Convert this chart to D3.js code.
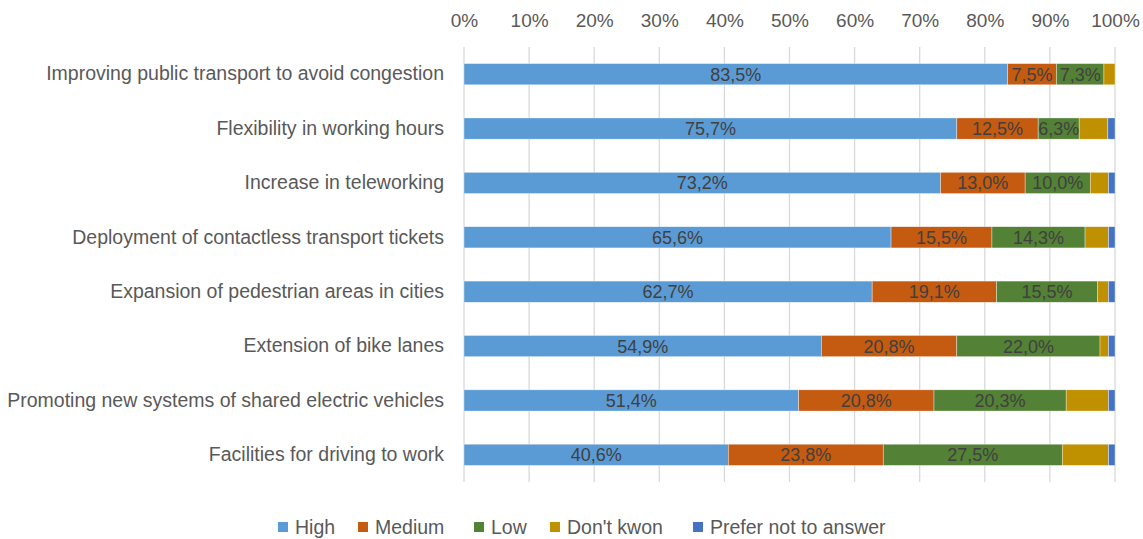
<!DOCTYPE html>
<html><head><meta charset="utf-8">
<script src="https://cdn.jsdelivr.net/npm/d3@7"></script>
<style>body{margin:0;background:#fff;} text{font-family:"Liberation Sans",Arial,sans-serif;}</style>
</head><body><svg id="c" width="1143" height="539"></svg>
<script>
const categories = [
  "Improving public transport to avoid congestion",
  "Flexibility in working hours",
  "Increase in teleworking",
  "Deployment of contactless transport tickets",
  "Expansion of pedestrian areas in cities",
  "Extension of bike lanes",
  "Promoting new systems of shared electric vehicles",
  "Facilities for driving to work"
];
const seriesNames = ["High", "Medium", "Low", "Don't kwon", "Prefer not to answer"];
const high   = [83.5, 75.7, 73.2, 65.6, 62.7, 54.9, 51.4, 40.6];
const medium = [7.5, 12.5, 13.0, 15.5, 19.1, 20.8, 20.8, 23.8];
const low    = [7.3, 6.3, 10.0, 14.3, 15.5, 22.0, 20.3, 27.5];
const dontKnow = [1.7, 4.4, 2.8, 3.6, 1.7, 1.3, 6.5, 7.1];
const preferNot = [0.0, 1.1, 1.0, 1.0, 1.0, 1.0, 1.0, 1.0];
const tickValues = [0,10,20,30,40,50,60,70,80,90,100];
const colors = ["#5B9BD5", "#C55A11", "#538135", "#BF9000", "#4472C4"];
const labeled = [true, true, true, false, false];

const series = [high, medium, low, dontKnow, preferNot];
const rows = categories.map((c,i)=>{ const o={cat:c}; seriesNames.forEach((s,k)=>o[s]=series[k][i]); return o; });
const stack = d3.stack().keys(seriesNames)(rows);

const svg = d3.select("#c");
const x = d3.scaleLinear().domain([0,100]).range([464,1115]);
const y = d3.scaleBand().domain(categories).range([47,482]).paddingInner(0.61).paddingOuter(0.305);

// gridlines
svg.append("g").selectAll("line").data(tickValues).join("line")
  .attr("x1",d=>x(d)).attr("x2",d=>x(d)).attr("y1",47).attr("y2",482)
  .attr("stroke","#d9d9d9").attr("stroke-width",1.3);

// top axis labels
const ax = svg.append("g").attr("transform","translate(0,27)")
  .call(d3.axisTop(x).tickValues(tickValues).tickFormat(d=>d+"%").tickSize(0).tickPadding(0));
ax.select(".domain").remove();
ax.selectAll("text").attr("fill","#595959").attr("font-size",19).attr("font-family","Liberation Sans, Arial, sans-serif");

// category labels
const ay = svg.append("g").attr("transform","translate(444,0)")
  .call(d3.axisLeft(y).tickSize(0).tickPadding(0));
ay.select(".domain").remove();
ay.selectAll("text").attr("fill","#595959").attr("font-size",19.5).attr("font-family","Liberation Sans, Arial, sans-serif");

// bars
const g = svg.append("g");
stack.forEach((s,k)=>{
  g.append("g").selectAll("rect").data(s).join("rect")
    .attr("x",d=>x(d[0])).attr("width",d=>Math.max(0,x(d[1])-x(d[0])))
    .attr("y",d=>y(d.data.cat)).attr("height",y.bandwidth())
    .attr("fill",colors[k]).attr("stroke","#fff").attr("stroke-width",0.6).attr("stroke-opacity",0.6);
  if(labeled[k]){
    g.append("g").selectAll("text").data(s).join("text")
      .attr("x",d=>(x(d[0])+x(d[1]))/2).attr("y",d=>y(d.data.cat)+y.bandwidth()/2)
      .attr("dy","0.36em").attr("text-anchor","middle").attr("font-size",18).attr("fill","#404040")
      .text(d=>(d[1]-d[0]).toFixed(1).replace(".",",")+"%");
  }
});

// legend
const legX = [278, 358, 474, 550, 693];
const leg = svg.append("g").selectAll("g").data(seriesNames).join("g")
  .attr("transform",(d,i)=>`translate(${legX[i]},527)`);
leg.append("rect").attr("x",0).attr("y",-5).attr("width",10).attr("height",10).attr("fill",(d,i)=>colors[i]);
leg.append("text").attr("x",17).attr("dy","0.36em").attr("font-size",19.5).attr("fill","#595959").text(d=>d);
</script></body></html>
